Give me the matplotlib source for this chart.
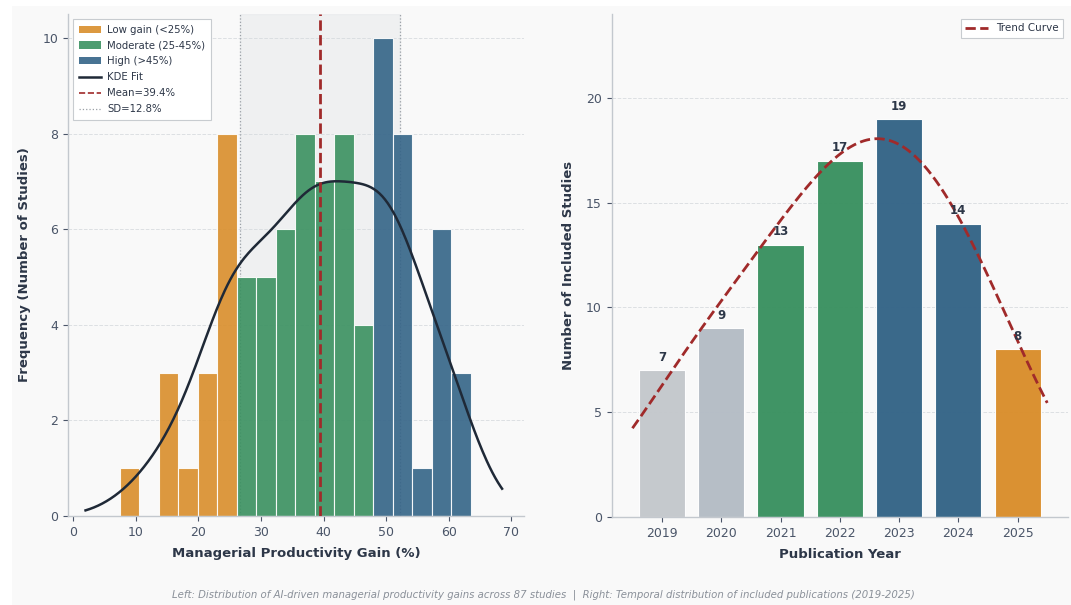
import numpy as np
import matplotlib
matplotlib.use("Agg")
import matplotlib.pyplot as plt
from matplotlib.patches import Rectangle, Patch
from matplotlib.lines import Line2D

# ---------------- data ----------------
bin_start = 7.44
bin_width = 3.115
hist_counts = [1, 0, 3, 1, 3, 8, 5, 5, 6, 8, 7, 8, 4, 10, 8, 1, 6, 3]
mean_gain = 39.4
sd_gain = 12.8
kde_range = (2.0, 68.5)

years = ["2019", "2020", "2021", "2022", "2023", "2024", "2025"]
year_counts = [7, 9, 13, 17, 19, 14, 8]

# ---------------- styles ----------------
C_LOW = "#d98e2b"
C_MOD = "#3a9160"
C_HIGH = "#346487"
C_GRAY1 = "#c4c8cc"
C_GRAY2 = "#b4bcc5"
C_RED = "#a02a2a"
C_TXT = "#2d3748"
C_TICK = "#4a5568"
BG = "#f9f9f9"

plt.rcParams["font.family"] = ["DejaVu Sans"]

fig = plt.figure(figsize=(10.71, 6.05), dpi=100, facecolor="white")
fig.patches.append(Rectangle((12 / 1071, 0), 1 - 12 / 1071, 1 - 6 / 605,
                             transform=fig.transFigure, facecolor=BG,
                             edgecolor="none", zorder=-10))

W, H = 1071, 605
def ax_rect(x0, x1, ytop, ybot):
    return [x0 / W, (H - ybot) / H, (x1 - x0) / W, (ybot - ytop) / H]

ax1 = fig.add_axes(ax_rect(68, 524, 14, 516))
ax2 = fig.add_axes(ax_rect(611.7, 1068, 14, 517))

for ax in (ax1, ax2):
    ax.set_facecolor(BG)
    for s in ("top", "right"):
        ax.spines[s].set_visible(False)
    for s in ("left", "bottom"):
        ax.spines[s].set_color("#c3c8ce")
        ax.spines[s].set_linewidth(1.0)
    ax.tick_params(colors=C_TICK, labelsize=9, length=3.5, width=0.8)
    ax.yaxis.grid(True, linestyle="--", color="#d5d9dd", linewidth=0.7, alpha=0.8)
    ax.set_axisbelow(True)

# ---------------- left: histogram ----------------
counts = np.array(hist_counts, dtype=float)
edges = bin_start + bin_width * np.arange(len(counts) + 1)
lefts = edges[:-1]
colors = [C_LOW if l < 25 else (C_MOD if l < 45 else C_HIGH) for l in lefts]

ax1.axvspan(mean_gain - sd_gain, mean_gain + sd_gain, color="#e3e6e8", alpha=0.45, zorder=0)
ax1.bar(lefts, counts, width=bin_width, align="edge", color=colors,
        edgecolor="white", linewidth=0.8, alpha=0.9, zorder=2)

centers = lefts + bin_width / 2
xs = np.linspace(kde_range[0], kde_range[1], 300)
bw = 5.0
dens = np.zeros_like(xs)
for c, n in zip(centers, counts):
    dens += n * np.exp(-0.5 * ((xs - c) / bw) ** 2) / (bw * np.sqrt(2 * np.pi))
ax1.plot(xs, dens * bin_width, color="#1f2937", linewidth=1.8, zorder=4)

ax1.axvline(mean_gain, color=C_RED, linestyle="--", linewidth=2.0, zorder=5)
ax1.axvline(mean_gain - sd_gain, color="#9aa0a6", linestyle=":", linewidth=0.9, zorder=1)
ax1.axvline(mean_gain + sd_gain, color="#9aa0a6", linestyle=":", linewidth=0.9, zorder=1)

ax1.set_xlim(-0.8, 72)
ax1.set_ylim(0, 10.5)
ax1.set_xticks(range(0, 71, 10))
ax1.set_yticks(range(0, 11, 2))
ax1.set_xlabel("Managerial Productivity Gain (%)", fontsize=9.5, fontweight="bold", color=C_TXT, labelpad=6)
ax1.set_ylabel("Frequency (Number of Studies)", fontsize=9.5, fontweight="bold", color=C_TXT, labelpad=8)

handles = [
    Patch(facecolor=C_LOW, alpha=0.9, label="Low gain (<25%)"),
    Patch(facecolor=C_MOD, alpha=0.9, label="Moderate (25-45%)"),
    Patch(facecolor=C_HIGH, alpha=0.9, label="High (>45%)"),
    Line2D([0], [0], color="#1f2937", linewidth=1.8, label="KDE Fit"),
    Line2D([0], [0], color=C_RED, linestyle="--", linewidth=1.2, label=f"Mean={mean_gain}%"),
    Line2D([0], [0], color="#9aa0a6", linestyle=":", linewidth=0.9, label=f"SD={sd_gain}%"),
]
leg1 = ax1.legend(handles=handles, loc="upper left", fontsize=7.3, frameon=True,
                  fancybox=False, edgecolor="#c8ccd0", framealpha=1.0,
                  borderpad=0.55, handlelength=2.2, handletextpad=0.6,
                  labelspacing=0.58, borderaxespad=0.5)
leg1.get_frame().set_linewidth(0.8)
for t in leg1.get_texts():
    t.set_color(C_TXT)

# ---------------- right: yearly bars ----------------
x = np.arange(len(years))
ycounts = np.array(year_counts, dtype=float)
bar_colors = [C_GRAY1, C_GRAY2, C_MOD, C_MOD, C_HIGH, C_HIGH, C_LOW]
ax2.bar(x, ycounts, width=0.78, color=bar_colors, edgecolor="white",
        linewidth=0.8, alpha=0.97, zorder=2)
for xi, v in zip(x, year_counts):
    ax2.text(xi, v + 0.3, str(v), ha="center", va="bottom", fontsize=8.5,
             fontweight="bold", color=C_TXT, zorder=6)

# smoothed trend: gaussian kernel over yearly counts, scaled to 95% of max
xt = np.linspace(-0.5, 6.5, 300)
h = 1.0
trend = np.zeros_like(xt)
for xi, n in zip(x, ycounts):
    trend += n * np.exp(-0.5 * ((xt - xi) / h) ** 2)
trend = trend / trend.max() * ycounts.max() * 0.95
ax2.plot(xt, trend, color=C_RED, linestyle="--", linewidth=2.0,
         label="Trend Curve", zorder=5)

ax2.set_xlim(-0.85, 6.85)
ax2.set_ylim(0, 24)
ax2.set_xticks(x)
ax2.set_xticklabels(years)
ax2.set_yticks(range(0, 21, 5))
ax2.set_xlabel("Publication Year", fontsize=9.5, fontweight="bold", color=C_TXT, labelpad=6)
ax2.set_ylabel("Number of Included Studies", fontsize=9.5, fontweight="bold", color=C_TXT, labelpad=8)
leg2 = ax2.legend(loc="upper right", fontsize=7.5, frameon=True, fancybox=False,
                  edgecolor="#c8ccd0", framealpha=1.0, handlelength=2.2)
leg2.get_frame().set_linewidth(0.8)
for t in leg2.get_texts():
    t.set_color(C_TXT)

fig.text(543 / 1071, 1 - 595 / 605,
         "Left: Distribution of AI-driven managerial productivity gains across 87 studies  |  "
         "Right: Temporal distribution of included publications (2019-2025)",
         ha="center", va="center", fontsize=7.3, style="italic", color="#8a9099")

fig.savefig("out.png", dpi=100, facecolor=fig.get_facecolor())
